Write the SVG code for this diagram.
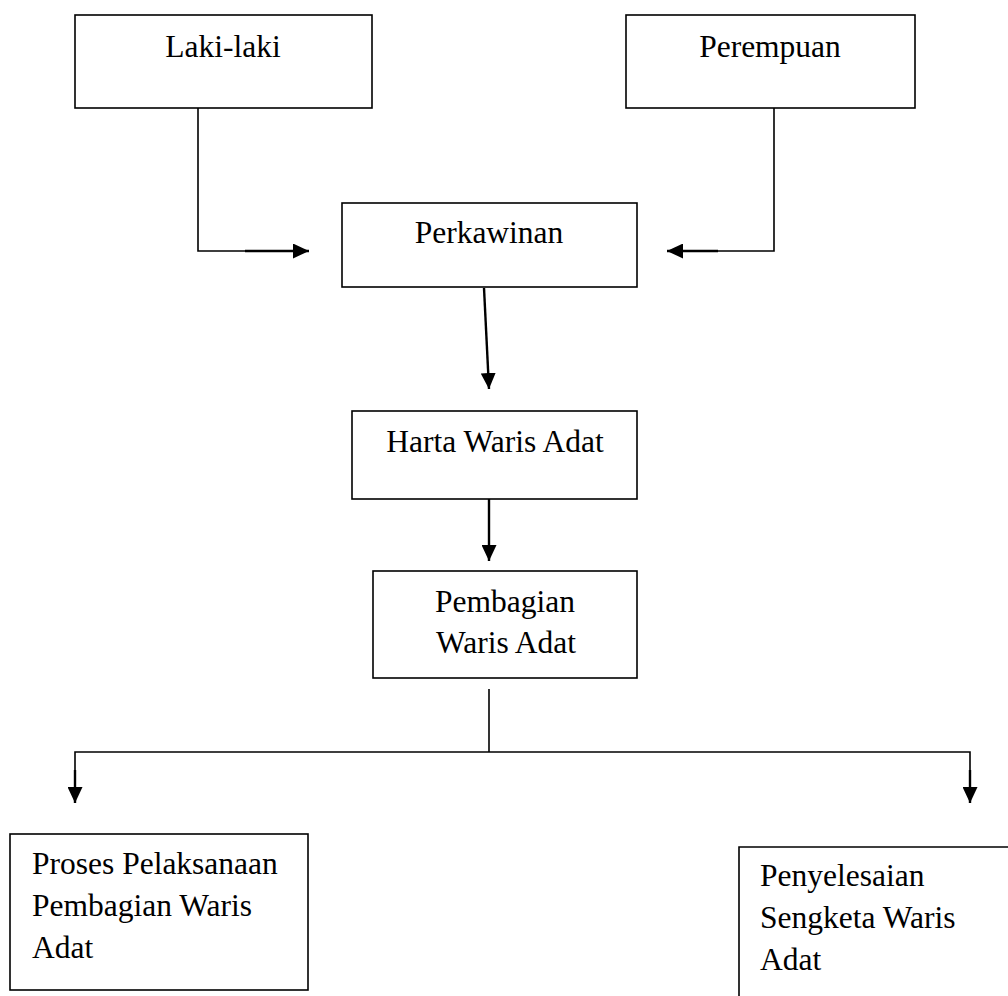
<svg xmlns="http://www.w3.org/2000/svg" width="1008" height="996" viewBox="0 0 1008 996">
<style>
.box{fill:#fff;stroke:#000;stroke-width:1.6}
.t{font-family:"Liberation Serif","Times New Roman",serif;font-size:31.5px;fill:#000}
.c{text-anchor:middle}
.ln{stroke:#000;stroke-width:1.6;fill:none}
.th{stroke:#000;stroke-width:2.4;fill:none}
</style>
<defs>
<marker id="ah" viewBox="0 0 16 15" refX="16" refY="7.5" markerWidth="16" markerHeight="15" markerUnits="userSpaceOnUse" orient="auto">
<path d="M0,0 L16,7.5 L0,15 Z" fill="#000"/>
</marker>
</defs>
<rect width="1008" height="996" fill="#fff"/>
<g id="connectors">
<polyline class="ln" points="198,108 198,251 246,251"/>
<line class="th" x1="245" y1="251" x2="309" y2="251" marker-end="url(#ah)"/>
<polyline class="ln" points="774,108 774,251 717,251"/>
<line class="th" x1="718" y1="251" x2="667" y2="251" marker-end="url(#ah)"/>
<line class="th" x1="484" y1="288" x2="489" y2="389" marker-end="url(#ah)"/>
<line class="th" x1="489" y1="499" x2="489" y2="561" marker-end="url(#ah)"/>
<line class="ln" x1="489" y1="689" x2="489" y2="752"/>
<polyline class="ln" points="75,803 75,752 970,752 970,803"/>
<line class="th" x1="75" y1="770" x2="75" y2="803" marker-end="url(#ah)"/>
<line class="th" x1="970" y1="770" x2="970" y2="803" marker-end="url(#ah)"/>
</g>
<g id="laki-laki">
<rect class="box" x="75" y="15" width="297" height="93"/>
<text class="t c" x="223" y="57">Laki-laki</text>
</g>
<g id="perempuan">
<rect class="box" x="626" y="15" width="289" height="93"/>
<text class="t c" x="770" y="57">Perempuan</text>
</g>
<g id="perkawinan">
<rect class="box" x="342" y="203" width="295" height="84"/>
<text class="t c" x="489" y="243">Perkawinan</text>
</g>
<g id="harta">
<rect class="box" x="352" y="411" width="285" height="88"/>
<text class="t c" x="495" y="452">Harta Waris Adat</text>
</g>
<g id="pembagian">
<rect class="box" x="373" y="571" width="264" height="107"/>
<text class="t c" x="505" y="612">Pembagian</text>
<text class="t c" x="506" y="653">Waris Adat</text>
</g>
<g id="proses">
<rect class="box" x="10" y="834" width="298" height="156"/>
<text class="t" x="32" y="874">Proses Pelaksanaan</text>
<text class="t" x="32" y="916">Pembagian Waris</text>
<text class="t" x="32" y="958">Adat</text>
</g>
<g id="penyelesaian">
<polyline class="ln" points="739,996 739,847 1008,847"/>
<text class="t" x="760" y="886">Penyelesaian</text>
<text class="t" x="760" y="928">Sengketa Waris</text>
<text class="t" x="760" y="970">Adat</text>
</g>
</svg>
